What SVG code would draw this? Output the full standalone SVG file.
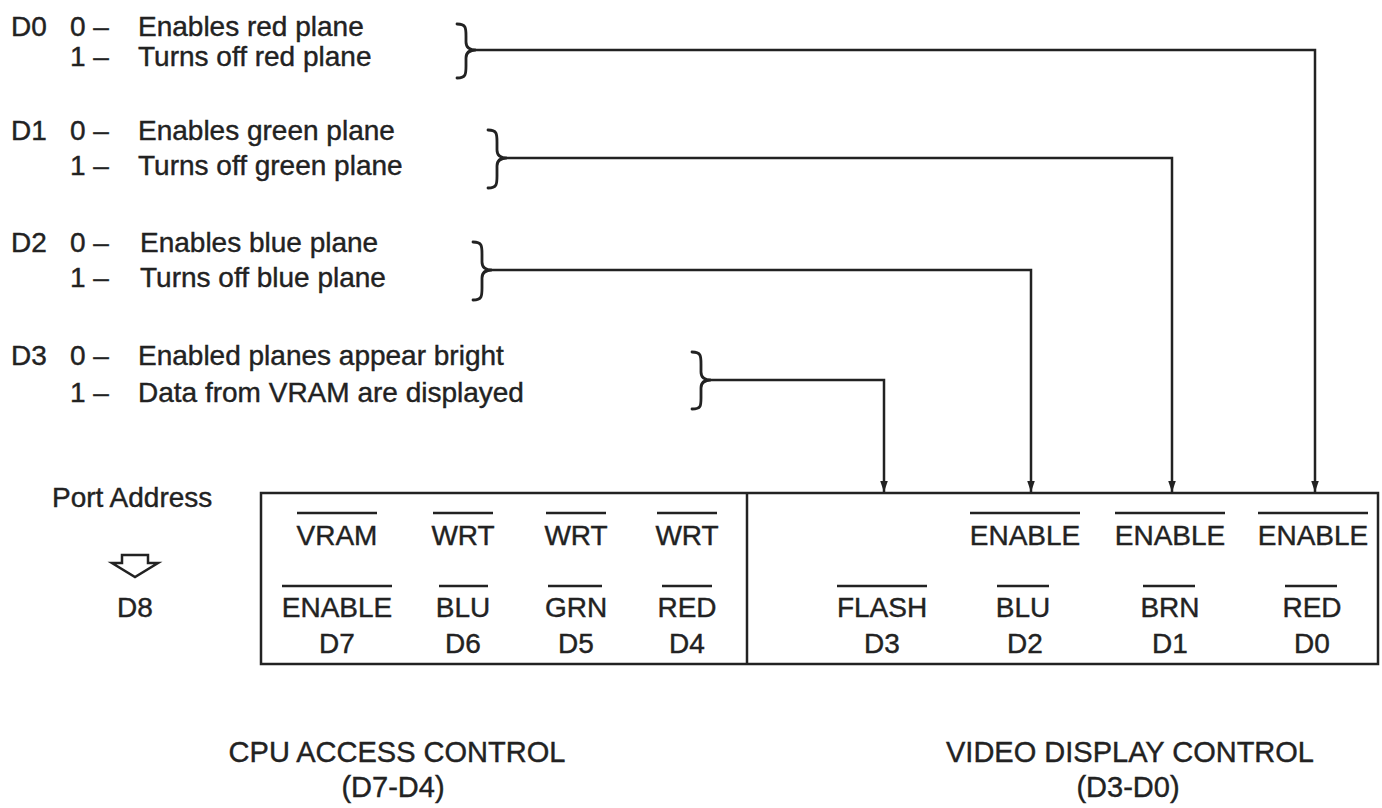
<svg xmlns="http://www.w3.org/2000/svg" width="1382" height="808" viewBox="0 0 1382 808">
<defs>
<style>
text{font-family:"Liberation Sans",Arial,sans-serif;font-size:28px;fill:#222;stroke:#222;stroke-width:0.4}
.c{text-anchor:middle}
.b{font-size:29px}
.ln{stroke:#222;stroke-width:2.5;fill:none}
.ov{stroke:#222;stroke-width:2.5}
.br{stroke:#222;stroke-width:2.8;fill:none;stroke-linecap:round}
</style>
<marker id="a2" markerWidth="11" markerHeight="16" refX="16" refY="5.5" orient="auto" markerUnits="userSpaceOnUse" viewBox="0 0 16 11">
<path d="M0,0 L16,5.5 L0,11 Z" fill="#222"/>
</marker>
</defs>
<rect width="1382" height="808" fill="#fff"/>

<g id="legend-d0">
<text x="11" y="36">D0</text><text x="70" y="36">0 –</text><text x="138" y="36">Enables red plane</text>
<text x="70" y="66">1 –</text><text x="138" y="66">Turns off red plane</text>
<path class="br" d="M457,24 C466,24 466,28 466,36 L466,42 C466,47 469,50 476,50 C469,50 466,53 466,58 L466,66 C466,74 466,78 457,78"/>
</g>
<g id="legend-d1">
<text x="11" y="140">D1</text><text x="70" y="140">0 –</text><text x="138" y="140">Enables green plane</text>
<text x="70" y="175">1 –</text><text x="138" y="175">Turns off green plane</text>
<path class="br" d="M488,130 C497,130 497,134 497,142 L497,150 C497,155 500,158 507,158 C500,158 497,161 497,166 L497,176 C497,184 497,188 488,188"/>
</g>
<g id="legend-d2">
<text x="11" y="252">D2</text><text x="70" y="252">0 –</text><text x="140" y="252">Enables blue plane</text>
<text x="70" y="287">1 –</text><text x="140" y="287">Turns off blue plane</text>
<path class="br" d="M473,242 C482,242 482,246 482,254 L482,262 C482,267 485,270 492,270 C485,270 482,273 482,278 L482,288 C482,296 482,300 473,300"/>
</g>
<g id="legend-d3">
<text x="11" y="365">D3</text><text x="70" y="365">0 –</text><text x="138" y="365">Enabled planes appear bright</text>
<text x="70" y="402">1 –</text><text x="138" y="402">Data from VRAM are displayed</text>
<path class="br" d="M692,352 C701,352 701,356 701,364 L701,372 C701,377 704,380 711,380 C704,380 701,383 701,388 L701,398 C701,406 701,409 692,409"/>
</g>

<g id="connectors">
<polyline class="ln" points="476,50 1315,50 1315,492" marker-end="url(#a2)"/>
<polyline class="ln" points="507,158 1172,158 1172,492" marker-end="url(#a2)"/>
<polyline class="ln" points="492,270 1031,270 1031,492" marker-end="url(#a2)"/>
<polyline class="ln" points="711,380 884,380 884,492" marker-end="url(#a2)"/>
</g>

<g id="port-address">
<text x="52" y="507">Port Address</text>
<polygon class="ln" points="122,555 148,555 148,563 158,563 135,577 112,563 122,563"/>
<text class="c" x="135" y="617">D8</text>
</g>

<g id="register">
<rect class="ln" x="261" y="493" width="1117" height="171"/>
<line class="ln" x1="747" y1="493" x2="747" y2="664"/>
</g>

<g id="cpu-bits">
<text class="c" x="337" y="545">VRAM</text><line class="ov" x1="297" y1="513" x2="377" y2="513"/>
<text class="c" x="463" y="545">WRT</text><line class="ov" x1="433" y1="513" x2="493" y2="513"/>
<text class="c" x="576" y="545">WRT</text><line class="ov" x1="546" y1="513" x2="606" y2="513"/>
<text class="c" x="687" y="545">WRT</text><line class="ov" x1="657" y1="513" x2="717" y2="513"/>
<text class="c" x="337" y="617">ENABLE</text><line class="ov" x1="282" y1="586" x2="392" y2="586"/>
<text class="c" x="463" y="617">BLU</text><line class="ov" x1="439" y1="586" x2="488" y2="586"/>
<text class="c" x="576" y="617">GRN</text><line class="ov" x1="548" y1="586" x2="602" y2="586"/>
<text class="c" x="687" y="617">RED</text><line class="ov" x1="662" y1="586" x2="712" y2="586"/>
<text class="c" x="337" y="653">D7</text>
<text class="c" x="463" y="653">D6</text>
<text class="c" x="576" y="653">D5</text>
<text class="c" x="687" y="653">D4</text>
</g>

<g id="video-bits">
<text class="c" x="1025" y="545">ENABLE</text><line class="ov" x1="970" y1="513" x2="1080" y2="513"/>
<text class="c" x="1170" y="545">ENABLE</text><line class="ov" x1="1115" y1="513" x2="1225" y2="513"/>
<text class="c" x="1313" y="545">ENABLE</text><line class="ov" x1="1258" y1="513" x2="1368" y2="513"/>
<text class="c" x="882" y="617">FLASH</text><line class="ov" x1="837" y1="586" x2="927" y2="586"/>
<text class="c" x="1023" y="617">BLU</text><line class="ov" x1="997" y1="586" x2="1049" y2="586"/>
<text class="c" x="1170" y="617">BRN</text><line class="ov" x1="1143" y1="586" x2="1195" y2="586"/>
<text class="c" x="1312" y="617">RED</text><line class="ov" x1="1285" y1="586" x2="1337" y2="586"/>
<text class="c" x="882" y="653">D3</text>
<text class="c" x="1025" y="653">D2</text>
<text class="c" x="1170" y="653">D1</text>
<text class="c" x="1312" y="653">D0</text>
</g>

<g id="captions">
<text class="c b" x="397" y="762">CPU ACCESS CONTROL</text>
<text class="c b" x="393" y="797">(D7-D4)</text>
<text class="c b" x="1130" y="762">VIDEO DISPLAY CONTROL</text>
<text class="c b" x="1128" y="797">(D3-D0)</text>
</g>
</svg>
